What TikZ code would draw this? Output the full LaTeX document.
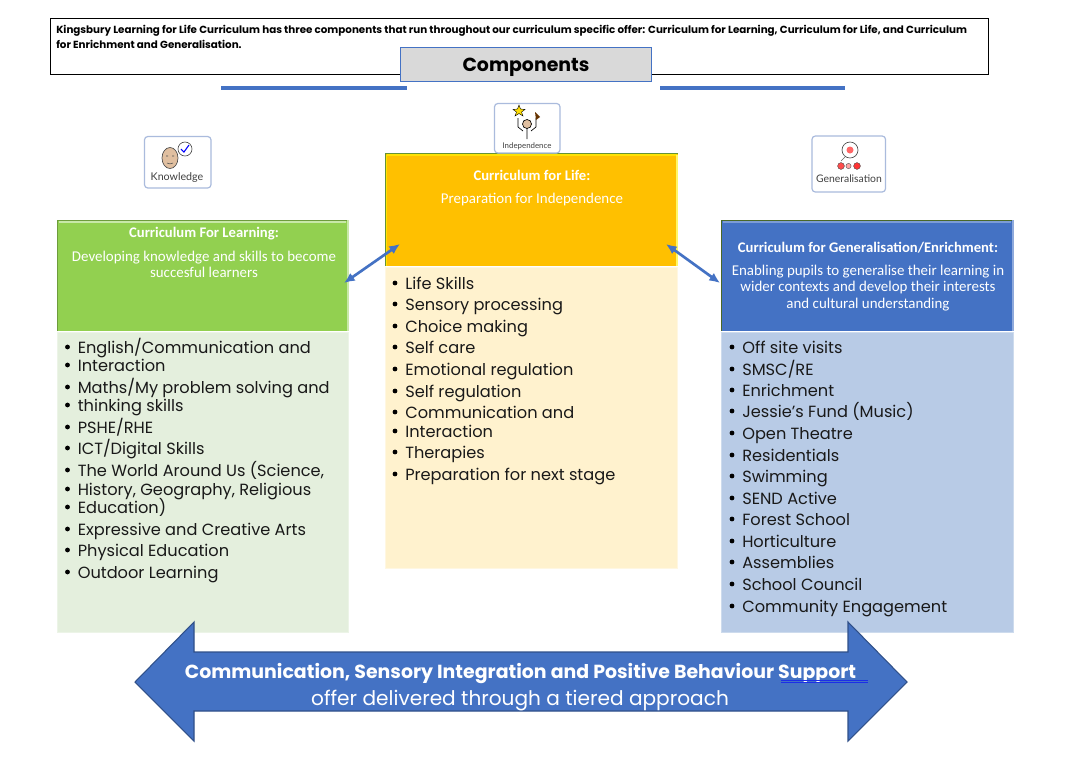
\documentclass[tikz,border=0pt]{standalone}
\usepackage{fontspec}
\setmainfont{Poppins}
\newfontfamily\carl{Carlito}
\newfontfamily\lato{Lato}
\usetikzlibrary{arrows.meta}
\definecolor{bluea}{HTML}{4472C4}
\definecolor{orangea}{HTML}{FFC000}
\definecolor{greena}{HTML}{92D050}
\definecolor{lgreen}{HTML}{E4EFDD}
\definecolor{lorange}{HTML}{FFF2CE}
\definecolor{lblue}{HTML}{B8CBE6}
\definecolor{icb}{HTML}{AABBDD}
\definecolor{skin}{HTML}{E0BFA0}
\tikzset{
 x=0.75pt,y=-0.75pt,
 li/.style={anchor=base west,inner sep=0pt,font=\fontsize{12.15}{12.15}\selectfont,text=black!90},
 bul/.style={circle,fill=black,inner sep=0pt,minimum size=3.6pt},
 hd/.style={align=center,text=white,inner sep=0pt},
 icon/.style={draw=icb,line width=0.9pt,rounded corners=2.5pt,fill=white},
 ilabel/.style={inner sep=0pt,text=black!75},
 link/.style={draw=bluea,line width=2pt,{Latex[length=8pt,width=7pt]}-{Latex[length=8pt,width=7pt]}},
}
\newcommand{\items}[3]{%
 \foreach \yy/\ttx [count=\i] in {#3}{
  \node[bul] (#2b\i) at (#1-10,\yy) {};
  \node[li] (#2t\i) at (#1,\yy+6.5) {\ttx};
 }}
\begin{document}
\begin{tikzpicture}
\useasboundingbox (0,0) rectangle (1081,765);
\fill[white] (0,0) rectangle (1081,765);
% top
\draw[black,line width=0.9pt] (50.5,18.5) rectangle (988.5,74.5);
\node[anchor=base west,inner sep=0pt,align=left,font=\bfseries\fontsize{7.74}{11.2}\selectfont] (intro) at (56,48) {Kingsbury Learning for Life Curriculum has three components that run throughout our curriculum specific offer: Curriculum for Learning, Curriculum for Life, and Curriculum\\for Enrichment and Generalisation.};
\draw[bluea,fill=black!15,line width=0.7pt] (400.5,47.5) rectangle (651.5,81.5);
\node[font=\bfseries\fontsize{14.2}{14.2}\selectfont,inner sep=0pt] (title) at (526,67.5) {Components};
\fill[bluea] (221,86) rectangle (407,90);
\fill[bluea] (660,86) rectangle (845,90);
% panels
\fill[lgreen] (57,332) rectangle (348,632);
\fill[lorange] (385,267) rectangle (677,568);
\fill[lblue] (721,332) rectangle (1013,632);
\draw[lgreen!70!white,line width=0.7pt] (57,332) rectangle (348,632);
\draw[lorange!60!white,line width=0.7pt] (385,267) rectangle (677,568);
\draw[lblue!70!white,line width=0.7pt] (721,332) rectangle (1013,632);
% headers
\fill[greena] (57,220) rectangle (348,331);
\draw[greena!75!black,line width=0.6pt] (57,331)--(57,220)--(348,220);
\draw[greena!50!white,line width=1.4pt] (59,222)--(346,222);
\draw[white!50!greena,line width=1.2pt] (348,220)--(348,331);
\fill[orangea] (385,153) rectangle (678,266);
\draw[greena!70!black,line width=0.6pt] (385,266)--(385,153)--(678,153);
\draw[yellow!70!orangea,line width=1.6pt] (386.5,155)--(677,155);
\draw[yellow!70!orangea,line width=1.2pt] (386.5,155)--(386.5,266);
\draw[yellow!60!white,line width=1.2pt] (677,155)--(677,266);
\fill[bluea] (721,220) rectangle (1013,331);
\draw[greena!50!black,line width=0.6pt] (721,331)--(721,220)--(1013,220);
\draw[bluea!70!white,line width=1.4pt] (723,222)--(1011,222);
\draw[bluea!60!white,line width=1.2pt] (1013,220)--(1013,331);
% header text
\node[hd,font=\carl\bfseries\fontsize{11}{12}\selectfont] (h1a) at (204,233.5) {Curriculum For Learning:};
\node[hd,font=\carl\fontsize{11.2}{12}\selectfont] (h1b) at (204,264) {Developing knowledge and skills to become\\succesful learners};
\node[hd,font=\carl\bfseries\fontsize{11}{12}\selectfont] (h2a) at (532,175.5) {Curriculum for Life:};
\node[hd,font=\carl\fontsize{11.2}{12}\selectfont] (h2b) at (532,200) {Preparation for Independence};
\node[hd,font=\carl\bfseries\fontsize{11}{12}\selectfont] (h3a) at (868,248) {Curriculum for Generalisation/Enrichment:};
\node[hd,font=\carl\fontsize{11.2}{12.2}\selectfont] (h3b) at (868,288) {Enabling pupils to generalise their learning in\\wider contexts and develop their interests\\and cultural understanding};
% lists
\items{77.5}{a}{347/{English/Communication and},365/Interaction,387/{Maths/My problem solving and},405/thinking skills,427/{PSHE/RHE},448/{ICT/Digital Skills},470/{The World Around Us (Science,},489/{History, Geography, Religious},507/Education),529/Expressive and Creative Arts,550/Physical Education,572/Outdoor Learning}
\items{405}{b}{283/Life Skills,304/Sensory processing,326/Choice making,347/Self care,369/Emotional regulation,391/Self regulation,412/Communication and,431/Interaction,452/Therapies,474/Preparation for next stage}
\items{742}{c}{347/Off site visits,369/{SMSC/RE},390/Enrichment,411/Jessie's Fund (Music),433/Open Theatre,455/Residentials,476/Swimming,498/SEND Active,519/Forest School,541/Horticulture,562/Assemblies,584/School Council,606/Community Engagement}
% arrows
\coordinate (la) at (344,283); \coordinate (lb) at (400,244);
\coordinate (ra) at (666,244); \coordinate (rb) at (720,283);
\draw[link] (la) -- (lb);
\draw[link] (ra) -- (rb);
% big arrow
\draw[fill=bluea,draw=bluea!70!black,line width=0.8pt] (135,682)--(194,622)--(194,652)--(848,652)--(848,622)--(907,682)--(848,741)--(848,711)--(194,711)--(194,741)--cycle;
\node[inner sep=0pt,text=white,font=\bfseries\fontsize{14.2}{14.2}\selectfont] (ba) at (520.5,673.5) {Communication, Sensory Integration and Positive Behaviour Support};
\node[inner sep=0pt,text=white,font=\fontsize{15.08}{15.08}\selectfont] (bb) at (520,700.5) {offer delivered through a tiered approach};
\draw[blue!60!bluea,line width=0.4pt] (781,680.5)--(868,680.5) (781,682.3)--(868,682.3);
% icons
\draw[icon] (144.5,136.5) rectangle (211,188);
\node[ilabel,font=\lato\fontsize{8}{8}\selectfont] (ik) at (177,177.5) {Knowledge};
\draw[black!70,fill=skin,line width=0.5pt] (170,158) ellipse [x radius=8,y radius=10.5];
\draw[black!70,line width=0.4pt] (166,156)--(168,156) (172,156)--(174,156) (167,163) to[bend right=30] (173,163);
\draw[black!70,fill=white,line width=0.5pt] (185,149) circle [radius=7];
\draw[blue,line width=0.8pt] (181,149)--(184,152)--(189,145);
\draw[icon] (494.5,103.5) rectangle (560,153);
\node[ilabel,font=\lato\fontsize{5.9}{5.9}\selectfont] (ii) at (527,146) {Independence};
\draw[black,line width=0.5pt,fill=skin] (527,124) circle [radius=4.5];
\draw[black,line width=0.5pt] (527,128.5)--(527,139) (518,118)--(518,127)--(523,131) (536,118)--(536,127)--(531,131);
\fill[yellow!80!orange,draw=black,line width=0.3pt] (519,105)--(520.5,109)--(525,109.5)--(521.5,112)--(523,116)--(519,113.5)--(515,116)--(516.5,112)--(513,109.5)--(517.5,109)--cycle;
\fill[black!60!orange] (535,112)--(540,117)--(536,120)--cycle;
\draw[icon] (812,136) rectangle (885.5,192);
\node[ilabel,font=\lato\fontsize{7.8}{7.8}\selectfont] (ig) at (849,178.5) {Generalisation};
\draw[black!70,fill=white,line width=0.5pt] (850,150) circle [radius=8];
\fill[red!60!white] (850,150) circle [radius=3.5];
\draw[black!60,line width=0.4pt] (841,161)--(845,157);
\fill[red!70!white,draw=black!70,line width=0.3pt] (841,166) circle [radius=3.4];
\fill[red!35!white,draw=black!70,line width=0.3pt] (848.5,166) circle [radius=2.6];
\fill[red!80!white,draw=black!70,line width=0.3pt] (857,166) circle [radius=3.4];
\end{tikzpicture}
\end{document}
